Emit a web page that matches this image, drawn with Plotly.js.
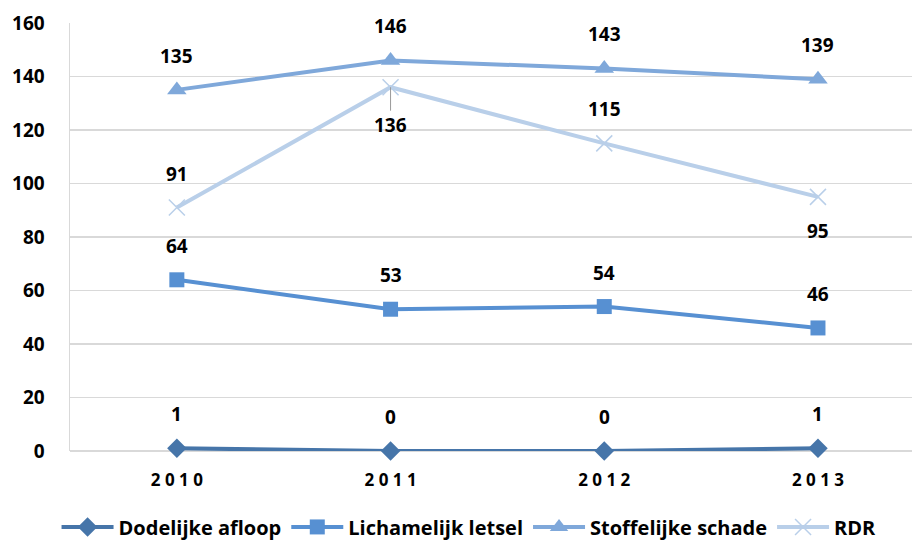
<!DOCTYPE html>
<html>
<head>
<meta charset="utf-8">
<script src="https://cdn.plot.ly/plotly-3.0.1.min.js"></script>
<style>html,body{margin:0;padding:0;background:#fff;}#chart{width:912px;height:541px;}</style>
</head>
<body>
<div id="chart"></div>
<script>
var years = ["2010", "2011", "2012", "2013"];
var seriesNames = ["Dodelijke afloop", "Lichamelijk letsel", "Stoffelijke schade", "RDR"];
var dodelijkeAfloop = [1, 0, 0, 1];
var lichamelijkLetsel = [64, 53, 54, 46];
var stoffelijkeSchade = [135, 146, 143, 139];
var rdr = [91, 136, 115, 95];
var yTicks = [0, 20, 40, 60, 80, 100, 120, 140, 160];
// label placement per point: 1 = above, -1 = below
var rdrLabelSide = [1, -1, 1, -1];

var FONT = "'Open Sans', 'Liberation Sans', sans-serif";
var colors = ["#4675A9", "#5790D2", "#7FA8DA", "#B9CFE9"];
var symbols = ["diamond", "square", "triangle-up", "x-thin-open"];
var sizes = [15, 15, 17, 16];
var allSeries = [dodelijkeAfloop, lichamelijkLetsel, stoffelijkeSchade, rdr];

var xIdx = years.map(function (_, i) { return i; });
var traces = allSeries.map(function (vals, s) {
  return {
    type: "scatter",
    mode: "lines+markers",
    name: seriesNames[s],
    x: xIdx,
    y: vals,
    line: { color: colors[s], width: 4 },
    marker: {
      symbol: symbols[s],
      size: sizes[s],
      color: colors[s],
      line: { color: colors[s], width: s === 3 ? 1.5 : 0 }
    },
    cliponaxis: false
  };
});

var annotations = [];
allSeries.forEach(function (vals, s) {
  vals.forEach(function (v, i) {
    var side = s === 3 ? rdrLabelSide[i] : 1;
    var a = {
      x: i, y: v, xref: "x", yref: "y",
      text: String(v),
      showarrow: false,
      yshift: side > 0 ? 34 : -34,
      font: { family: FONT, size: 19, color: "#000", weight: "bold" }
    };
    if (s === 3 && i === 1) {
      a.showarrow = true;
      a.arrowhead = 0;
      a.arrowwidth = 1;
      a.arrowcolor = "#9a9a9a";
      a.ax = 0;
      a.ay = 38;
      a.yshift = 0;
      a.standoff = 0;
    }
    annotations.push(a);
  });
});

var spaced = years.map(function (y) { return y.split("").join(" "); });

var layout = {
  width: 912, height: 541,
  margin: { l: 70, r: 0, t: 23, b: 90 },
  paper_bgcolor: "#fff", plot_bgcolor: "#fff",
  showlegend: true,
  legend: {
    orientation: "h", xref: "container", yref: "container",
    x: 0.062, xanchor: "left", y: 0.026, yanchor: "middle",
    font: { family: FONT, size: 20, color: "#000", weight: "bold" },
    itemwidth: 52, tracegroupgap: 0
  },
  xaxis: {
    range: [-0.5, 3.44],
    tickvals: xIdx, ticktext: spaced,
    showgrid: false, zeroline: false,
    showline: false,
    ticks: "outside", ticklen: 14, tickcolor: "rgba(0,0,0,0)",
    tickfont: { family: FONT, size: 17, color: "#000", weight: "bold" },
    fixedrange: true
  },
  yaxis: {
    range: [0, 160],
    tickvals: yTicks,
    showgrid: true, gridcolor: "#D9D9D9", gridwidth: 1.5,
    zeroline: true, zerolinecolor: "#D9D9D9", zerolinewidth: 1.5,
    showline: true, linecolor: "#D9D9D9", linewidth: 1.5,
    ticks: "outside", ticklen: 20, tickcolor: "rgba(0,0,0,0)",
    tickfont: { family: FONT, size: 19, color: "#000", weight: "bold" },
    fixedrange: true
  },
  annotations: annotations
};

Plotly.newPlot("chart", traces, layout, { displayModeBar: false, staticPlot: true });
</script>
</body>
</html>
